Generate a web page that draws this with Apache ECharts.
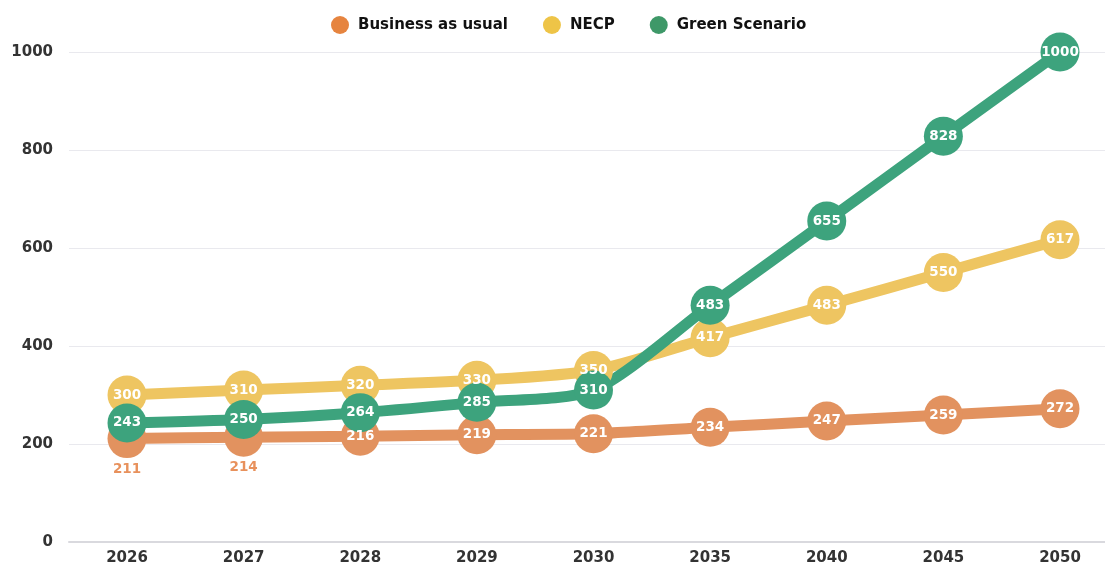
<!DOCTYPE html>
<html>
<head>
<meta charset="utf-8">
<script src="https://cdn.jsdelivr.net/npm/echarts@6/dist/echarts.min.js"></script>
<style>
html,body{margin:0;padding:0;background:#fff;}
#chart{width:1105px;height:567px;}
</style>
</head>
<body>
<div id="chart"></div>
<script>
const categories = ['2026','2027','2028','2029','2030','2035','2040','2045','2050'];
const businessAsUsual = [211, 214, 216, 219, 221, 234, 247, 259, 272];
const necp = [300, 310, 320, 330, 350, 417, 483, 550, 617];
const greenScenario = [243, 250, 264, 285, 310, 483, 655, 828, 1000];
const seriesNames = ['Business as usual', 'NECP', 'Green Scenario'];
const yTicks = [0, 200, 400, 600, 800, 1000];

const FONT = 'DejaVu Sans';
const colors = {
  bau: '#E2925F',
  necp: '#EEC561',
  green: '#3DA37D'
};
const legendColors = ['#E6843F', '#EEC447', '#3E9868'];

// labels for BAU points that sit below the symbol (covered by other series)
const belowIdx = [0, 1];

const bauData = businessAsUsual.map((v, i) => belowIdx.includes(i)
  ? { value: v, label: { position: 'bottom', distance: 4, color: '#E8915C' } }
  : v);

function lineSeries(name, data, color, smooth) {
  return {
    name: name,
    type: 'line',
    xAxisIndex: 0,
    yAxisIndex: 0,
    data: data,
    smooth: smooth,
    symbol: 'circle',
    symbolSize: 39,
    lineStyle: { width: 11, color: color },
    itemStyle: { color: color },
    label: {
      show: true,
      position: 'inside',
      color: '#fff',
      fontFamily: FONT,
      fontWeight: 'bold',
      fontSize: 13.5
    },
    emphasis: { disabled: true },
    animation: false
  };
}

const yMin = yTicks[0], yMax = yTicks[yTicks.length - 1];

const chart = echarts.init(document.getElementById('chart'), null, { renderer: 'canvas' });
chart.setOption({
  backgroundColor: '#fff',
  animation: false,
  legend: {
    top: 11,
    left: 326,
    icon: 'circle',
    itemWidth: 18,
    itemHeight: 18,
    itemGap: 35,
    textStyle: { fontFamily: FONT, fontWeight: 'bold', fontSize: 15, color: '#111', padding: [0, 0, 0, 4] },
    data: seriesNames.map((n, i) => ({ name: n, itemStyle: { color: legendColors[i] } }))
  },
  grid: [
    // plotting grid: first and last category sit on the edges
    { left: 127, right: 45, top: 52, height: 490, containLabel: false },
    // background grid: split lines, axis line and y labels across the full width
    { left: 69, right: 0, top: 52, height: 490, containLabel: false, z: 0 }
  ],
  xAxis: [
    {
      gridIndex: 0,
      type: 'category',
      data: categories,
      boundaryGap: false,
      axisLine: { show: false },
      axisTick: { show: false },
      splitLine: { show: false },
      axisLabel: { margin: 9, fontFamily: FONT, fontWeight: 'bold', fontSize: 15, color: '#333' }
    },
    {
      gridIndex: 1,
      type: 'category',
      data: categories,
      axisLine: { show: true, lineStyle: { color: '#d9d9de', width: 2 } },
      axisTick: { show: false },
      axisLabel: { show: false },
      splitLine: { show: false }
    }
  ],
  yAxis: [
    {
      gridIndex: 0,
      type: 'value',
      min: yMin, max: yMax, interval: 200,
      show: false,
      splitLine: { show: false }
    },
    {
      gridIndex: 1,
      type: 'value',
      min: yMin, max: yMax, interval: 200,
      axisLine: { show: false },
      axisTick: { show: false },
      splitLine: { lineStyle: { color: '#e9e9ee', width: 1 } },
      axisLabel: {
        margin: 16, fontFamily: FONT, fontWeight: 'bold', fontSize: 15, color: '#333',
        formatter: v => String(v)
      }
    }
  ],
  series: [
    lineSeries(seriesNames[0], bauData, colors.bau, 0.15),
    lineSeries(seriesNames[1], necp, colors.necp, 0.25),
    lineSeries(seriesNames[2], greenScenario, colors.green, 0.25)
  ]
});
</script>
</body>
</html>
